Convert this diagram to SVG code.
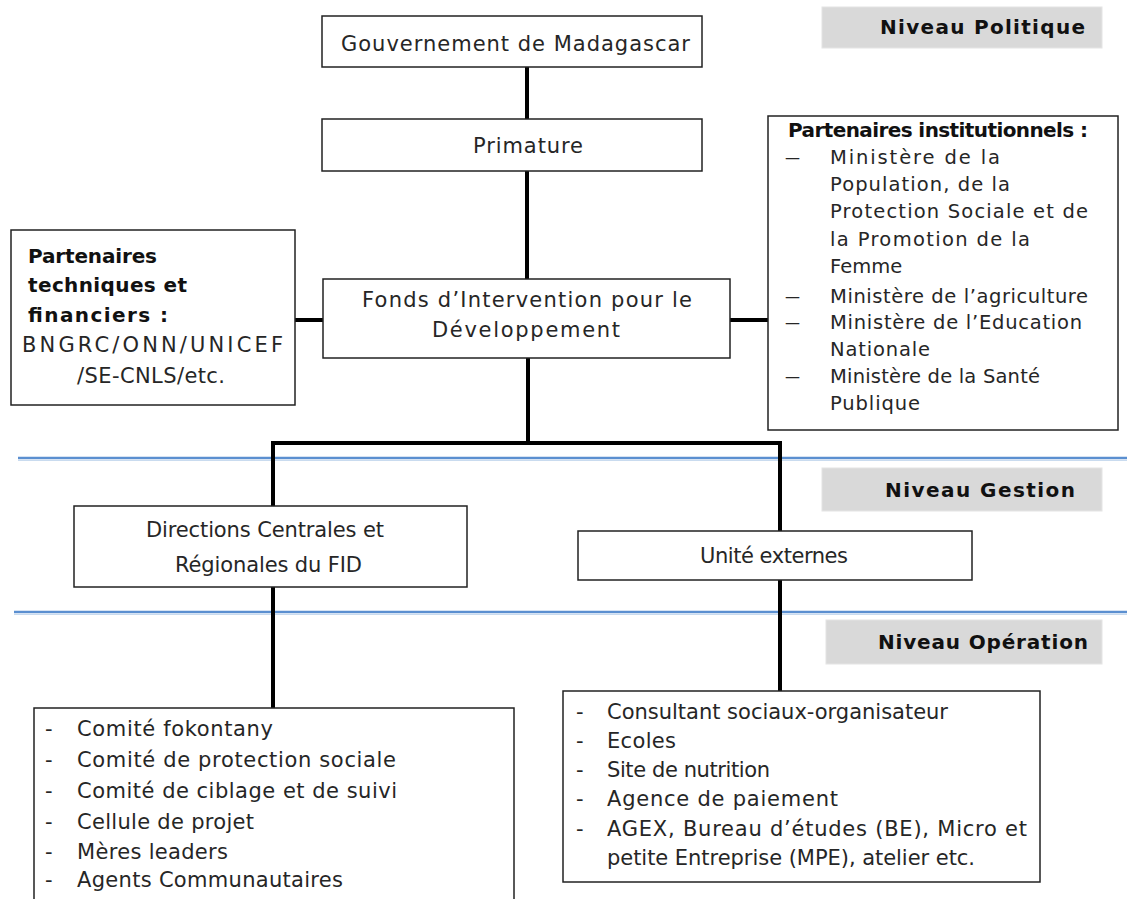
<svg xmlns="http://www.w3.org/2000/svg" width="1127" height="899" viewBox="0 0 1127 899">
<style>
.box{fill:#fff;stroke:#222;stroke-width:1.5}
.lvl{fill:#d9d9d9;stroke:#e4e4e4;stroke-width:1}
.t{font-family:"DejaVu Sans",sans-serif;font-size:21px;fill:#262626}
.s{font-family:"DejaVu Sans",sans-serif;font-size:19.5px;fill:#262626}
.b{font-family:"DejaVu Sans",sans-serif;font-size:20px;font-weight:bold;fill:#111}
.d{font-family:"DejaVu Sans",sans-serif;font-size:15px;fill:#262626}
.c{text-anchor:middle}
.con{stroke:#000;stroke-width:4;fill:none}
.blue{stroke:#5b8fd0;stroke-width:2.5;fill:none}
.blue2{stroke:#c9dbef;stroke-width:1;fill:none}
</style>
<rect width="1127" height="899" fill="#fff"/>
<g id="separators">
<line class="blue2" x1="18" y1="460.5" x2="1127" y2="460.5"/>
<line class="blue" x1="18" y1="458" x2="1127" y2="458"/>
<line class="blue2" x1="14" y1="614.5" x2="1127" y2="614.5"/>
<line class="blue" x1="14" y1="612" x2="1127" y2="612"/>
</g>
<g id="connectors">
<line class="con" x1="527" y1="67" x2="527" y2="119"/>
<line class="con" x1="527" y1="171" x2="527" y2="280"/>
<line class="con" x1="295" y1="320" x2="323" y2="320"/>
<line class="con" x1="730" y1="320" x2="768" y2="320"/>
<line class="con" x1="528" y1="358" x2="528" y2="443"/>
<polyline class="con" points="273,523 273,443 780,443 780,531"/>
<line class="con" x1="273" y1="587" x2="273" y2="708"/>
<line class="con" x1="780" y1="580" x2="780" y2="691"/>
</g>
<g id="lvl-politique">
<rect class="lvl" x="822" y="7" width="280" height="41"/>
<text class="b" x="880" y="34" textLength="205" lengthAdjust="spacing">Niveau Politique</text>
</g>
<g id="lvl-gestion">
<rect class="lvl" x="822" y="468" width="280" height="43"/>
<text class="b" x="885" y="497" textLength="190" lengthAdjust="spacing">Niveau Gestion</text>
</g>
<g id="lvl-operation">
<rect class="lvl" x="826" y="620" width="276" height="44"/>
<text class="b" x="878" y="649" textLength="210" lengthAdjust="spacing">Niveau Opération</text>
</g>
<g id="gouvernement">
<rect class="box" x="322" y="16" width="380" height="51"/>
<text class="t" x="341" y="51" textLength="349" lengthAdjust="spacing">Gouvernement de Madagascar</text>
</g>
<g id="primature">
<rect class="box" x="322" y="119" width="380" height="52"/>
<text class="t" x="473" y="153" textLength="110" lengthAdjust="spacing">Primature</text>
</g>
<g id="fid">
<rect class="box" x="323" y="279" width="407" height="79"/>
<text class="t" x="362" y="307" textLength="330" lengthAdjust="spacing">Fonds d’Intervention pour le</text>
<text class="t" x="432" y="337" textLength="188" lengthAdjust="spacing">Développement</text>
</g>
<g id="ptf">
<rect class="box" x="11" y="230" width="284" height="175"/>
<text class="b" x="28" y="263" textLength="129" lengthAdjust="spacing">Partenaires</text>
<text class="b" x="28" y="292" textLength="159" lengthAdjust="spacing">techniques et</text>
<text class="b" x="28" y="322" textLength="140" lengthAdjust="spacing">financiers :</text>
<text class="t" x="22" y="352" textLength="261" lengthAdjust="spacing">BNGRC/ONN/UNICEF</text>
<text class="t" x="77" y="383" textLength="148" lengthAdjust="spacing">/SE-CNLS/etc.</text>
</g>
<g id="pi">
<rect class="box" x="768" y="116" width="350" height="314"/>
<text class="b" x="788" y="137" textLength="300" lengthAdjust="spacing">Partenaires institutionnels :</text>
<text class="d" x="785" y="163">—</text>
<text class="s" x="830" y="164" textLength="170" lengthAdjust="spacing">Ministère de la</text>
<text class="s" x="830" y="191" textLength="180" lengthAdjust="spacing">Population, de la</text>
<text class="s" x="830" y="218" textLength="258" lengthAdjust="spacing">Protection Sociale et de</text>
<text class="s" x="830" y="246" textLength="200" lengthAdjust="spacing">la Promotion de la</text>
<text class="s" x="830" y="273">Femme</text>
<text class="d" x="785" y="302">—</text>
<text class="s" x="830" y="303" textLength="258" lengthAdjust="spacing">Ministère de l’agriculture</text>
<text class="d" x="785" y="328">—</text>
<text class="s" x="830" y="329" textLength="252" lengthAdjust="spacing">Ministère de l’Education</text>
<text class="s" x="830" y="356" textLength="100" lengthAdjust="spacing">Nationale</text>
<text class="d" x="785" y="382">—</text>
<text class="s" x="830" y="383" textLength="210" lengthAdjust="spacing">Ministère de la Santé</text>
<text class="s" x="830" y="410" textLength="90" lengthAdjust="spacing">Publique</text>
</g>
<g id="directions">
<rect class="box" x="74" y="506" width="393" height="81"/>
<text class="t" x="146" y="537" textLength="238" lengthAdjust="spacing">Directions Centrales et</text>
<text class="t" x="175" y="572" textLength="187" lengthAdjust="spacing">Régionales du FID</text>
</g>
<g id="unite">
<rect class="box" x="578" y="531" width="394" height="49"/>
<text class="t" x="700" y="563" textLength="148" lengthAdjust="spacing">Unité externes</text>
</g>
<g id="ops-fid">
<rect class="box" x="34" y="708" width="480" height="200"/>
<text class="t" x="45" y="736">-</text><text class="t" x="77" y="736" textLength="196" lengthAdjust="spacing">Comité fokontany</text>
<text class="t" x="45" y="767">-</text><text class="t" x="77" y="767" textLength="319" lengthAdjust="spacing">Comité de protection sociale</text>
<text class="t" x="45" y="798">-</text><text class="t" x="77" y="798" textLength="320" lengthAdjust="spacing">Comité de ciblage et de suivi</text>
<text class="t" x="45" y="829">-</text><text class="t" x="77" y="829" textLength="177" lengthAdjust="spacing">Cellule de projet</text>
<text class="t" x="45" y="859">-</text><text class="t" x="77" y="859" textLength="151" lengthAdjust="spacing">Mères leaders</text>
<text class="t" x="45" y="887">-</text><text class="t" x="77" y="887" textLength="266" lengthAdjust="spacing">Agents Communautaires</text>
</g>
<g id="ops-ext">
<rect class="box" x="563" y="691" width="477" height="191"/>
<text class="t" x="576" y="719">-</text><text class="t" x="607" y="719" textLength="341" lengthAdjust="spacing">Consultant sociaux-organisateur</text>
<text class="t" x="576" y="748">-</text><text class="t" x="607" y="748" textLength="69" lengthAdjust="spacing">Ecoles</text>
<text class="t" x="576" y="777">-</text><text class="t" x="607" y="777" textLength="163" lengthAdjust="spacing">Site de nutrition</text>
<text class="t" x="576" y="806">-</text><text class="t" x="607" y="806" textLength="231" lengthAdjust="spacing">Agence de paiement</text>
<text class="t" x="576" y="836">-</text><text class="t" x="607" y="836" textLength="420" lengthAdjust="spacing">AGEX, Bureau d’études (BE), Micro et</text>
<text class="t" x="607" y="865" textLength="368" lengthAdjust="spacing">petite Entreprise (MPE), atelier etc.</text>
</g>
</svg>
